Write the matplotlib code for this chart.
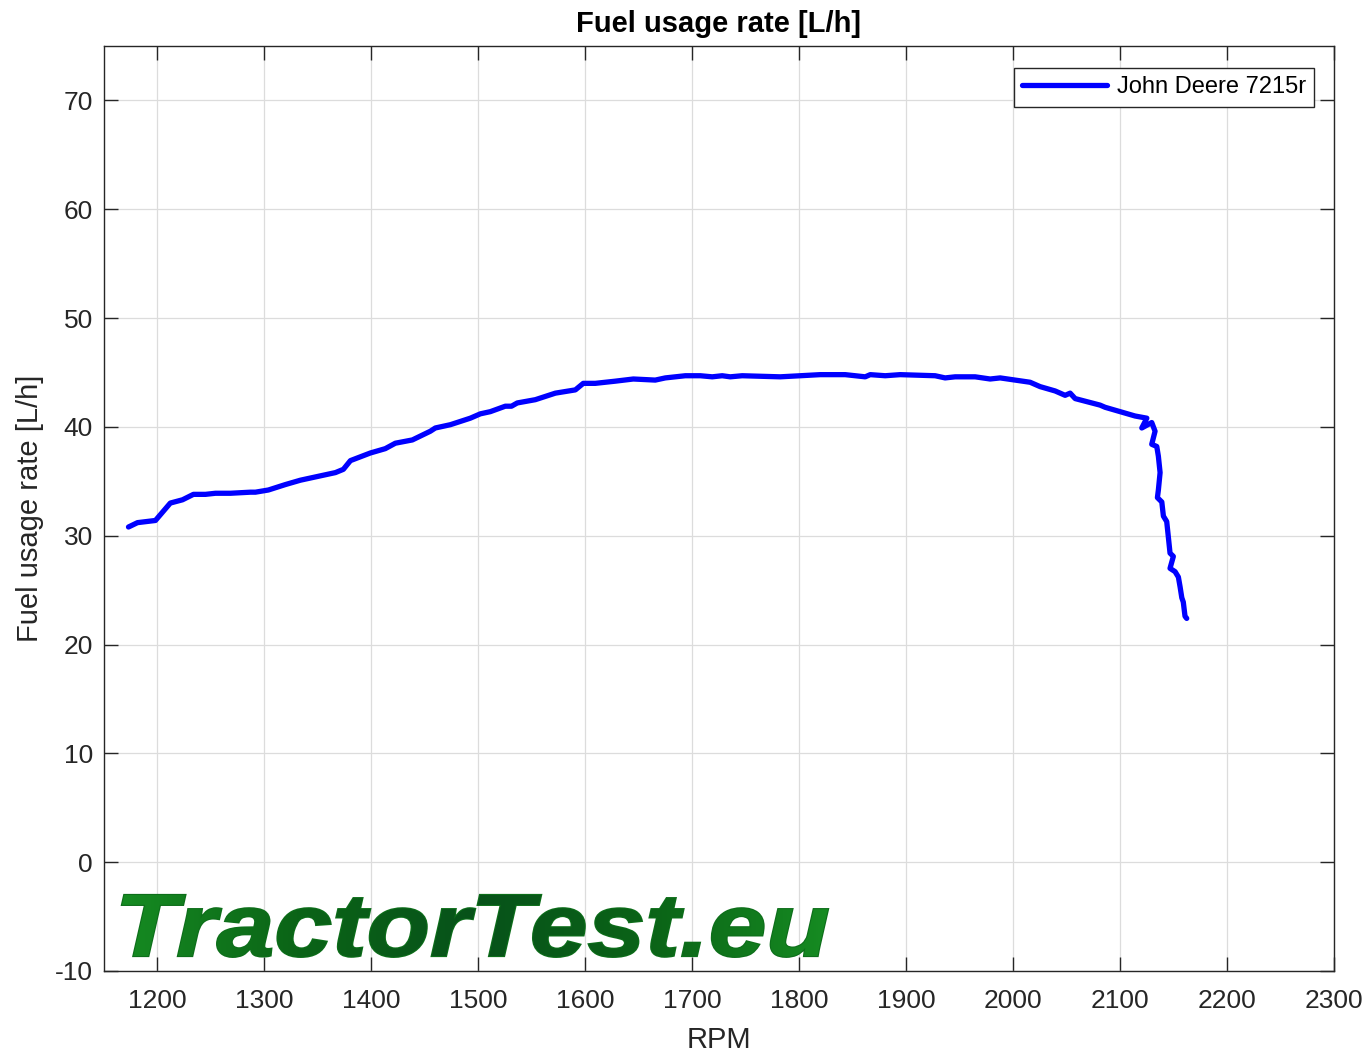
import matplotlib
matplotlib.use('Agg')
import numpy as np
import matplotlib.pyplot as plt
from matplotlib.textpath import TextPath
from matplotlib.font_manager import FontProperties
from matplotlib.patches import PathPatch
from matplotlib.transforms import Affine2D
from matplotlib.colors import LinearSegmentedColormap

plt.rcParams['font.family'] = ['Liberation Sans', 'DejaVu Sans']
plt.rcParams['axes.unicode_minus'] = False

# RPM / fuel usage (L/h)
rpm = [1172.9, 1181.3, 1198.1, 1212.0, 1223.4, 1233.6, 1244.9, 1254.2, 1268.2, 1287.0,
       1291.6, 1303.7, 1319.6, 1333.6, 1352.3, 1366.4, 1373.8, 1380.4, 1399.0, 1413.0,
       1422.4, 1438.3, 1455.1, 1459.8, 1473.8, 1492.5, 1501.9, 1511.2, 1525.2, 1531.0,
       1536.4, 1553.3, 1572.0, 1590.7, 1598.1, 1609.3, 1628.0, 1644.9, 1665.4, 1674.8,
       1693.5, 1707.5, 1718.7, 1728.0, 1735.5, 1746.7, 1782.2, 1801.0, 1819.6, 1843.0,
       1861.7, 1866.4, 1880.4, 1894.4, 1927.1, 1936.4, 1945.8, 1964.5, 1978.5, 1987.9,
       2001.9, 2015.9, 2025.2, 2039.3, 2048.6, 2053.3, 2058.0, 2081.3, 2086.0, 2100.0,
       2114.0, 2125.0, 2120.3, 2129.6, 2132.7, 2129.6, 2134.3, 2135.8, 2137.4, 2135.8,
       2134.9, 2139.0, 2140.5, 2143.6, 2145.1, 2146.7, 2149.8, 2146.7, 2151.4, 2154.5,
       2156.1, 2157.7, 2159.1, 2160.7, 2162.3]
fuel = [30.8, 31.2, 31.4, 33.0, 33.3, 33.8, 33.8, 33.9, 33.9, 34.0,
        34.0, 34.2, 34.7, 35.1, 35.5, 35.8, 36.1, 36.9, 37.6, 38.0,
        38.5, 38.8, 39.6, 39.9, 40.2, 40.8, 41.2, 41.4, 41.9, 41.9,
        42.2, 42.5, 43.1, 43.4, 44.0, 44.0, 44.2, 44.4, 44.3, 44.5,
        44.7, 44.7, 44.6, 44.7, 44.6, 44.7, 44.6, 44.7, 44.8, 44.8,
        44.6, 44.8, 44.7, 44.8, 44.7, 44.5, 44.6, 44.6, 44.4, 44.5,
        44.3, 44.1, 43.7, 43.3, 42.9, 43.1, 42.6, 42.0, 41.8, 41.4,
        41.0, 40.8, 39.9, 40.4, 39.6, 38.4, 38.2, 37.3, 35.8, 34.2,
        33.5, 33.1, 31.8, 31.3, 29.9, 28.4, 28.1, 27.0, 26.7, 26.2,
        25.3, 24.3, 23.9, 22.6, 22.4]

xticks = list(range(1200, 2301, 100))
yticks = list(range(-10, 71, 10))

W, H = 1370, 1056
fig = plt.figure(figsize=(W / 100, H / 100), dpi=100)
ax = fig.add_axes([104 / W, 1 - 971 / H, (1334 - 104) / W, (971 - 46) / H])

ax.plot(rpm, fuel, color='#0000ff', lw=3.8, label='John Deere 7215r',
        solid_joinstyle='round', solid_capstyle='round')

ax.set_xlim(1150, 2300)
ax.set_ylim(-10, 75)
ax.set_xticks(xticks)
ax.set_yticks(yticks)
ax.tick_params(direction='in', length=10, width=1, labelsize=19, colors='#262626',
               top=True, right=True)
ax.tick_params(axis='x', pad=13)
ax.tick_params(axis='y', pad=8)
ax.grid(True, color='#dcdcdc', lw=0.9)
ax.set_axisbelow(True)
for s in ax.spines.values():
    s.set_color('#262626')
    s.set_linewidth(1)

ax.set_title('Fuel usage rate [L/h]', fontsize=21, fontweight='bold', pad=10)
ax.set_xlabel('RPM', fontsize=21, color='#262626', labelpad=9)
ax.set_ylabel('Fuel usage rate [L/h]', fontsize=21, color='#262626', labelpad=8)

leg = ax.legend(loc='upper right', fontsize=17, handlelength=3.6, fancybox=False,
                edgecolor='#262626', framealpha=1, borderpad=0.35, handletextpad=0.4,
                borderaxespad=0, bbox_to_anchor=(0.9837, 0.976))
leg.get_frame().set_linewidth(1)

# watermark: heavy italic text with a green gradient, in pixel coords
ov = fig.add_axes([0, 0, 1, 1], zorder=5)
ov.set_xlim(0, W)
ov.set_ylim(0, H)
ov.axis('off')
ov.patch.set_alpha(0)

tp = TextPath((0, 0), 'TractorTest.eu', size=100,
              prop=FontProperties(family='Liberation Sans', weight='bold', style='italic'))
ext = tp.get_extents()
cap = TextPath((0, 0), 'T', size=100,
               prop=FontProperties(family='Liberation Sans', weight='bold')).get_extents().height
x0, x1, base, top = 122, 828, H - 956, H - 895
sx = (x1 - x0) / ext.width
sy = (top - base) / cap
path = Affine2D().translate(-ext.x0, 0).scale(sx, sy).translate(x0, base).transform_path(tp)
ov.add_patch(PathPatch(path, facecolor='#0d6e1a', edgecolor='#0d6e1a', lw=1.6))
cmap = LinearSegmentedColormap.from_list('wm', ['#168c22', '#0b6417', '#07521a', '#0b6417', '#168c22'])
grad = np.linspace(0, 1, 256)[None, :]
clip = PathPatch(path, facecolor='none', edgecolor='none')
ov.add_patch(clip)
im = ov.imshow(grad, cmap=cmap, extent=(x0 - 5, x1 + 5, base - 25, top + 5),
               aspect='auto', zorder=3)
im.set_clip_path(clip)
ov.set_xlim(0, W)
ov.set_ylim(0, H)

fig.savefig('out.png', dpi=100)
